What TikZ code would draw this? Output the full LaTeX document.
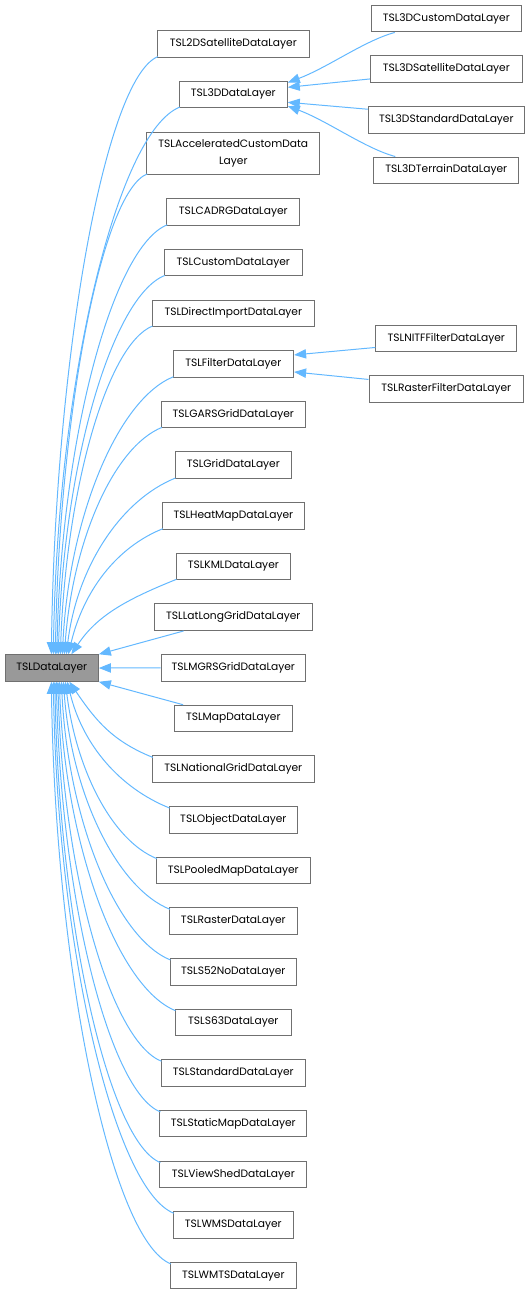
\documentclass[tikz,border=0pt]{standalone}
\usepackage{fontspec}
\setmainfont{Poppins}
\usetikzlibrary{arrows.meta,calc}
\definecolor{edgeblue}{HTML}{63B8FF}
\definecolor{boxline}{HTML}{707070}
\definecolor{rootfill}{HTML}{999999}
\tikzset{
  cls/.style={draw=boxline, fill=white, line width=0.75pt, minimum height=19.9pt,
    inner sep=0pt, font=\fontsize{8}{12.5}\selectfont, align=center},
  rootcls/.style={cls, fill=rootfill},
  edge/.style={draw=edgeblue, line width=0.75pt, -{Triangle[length=9pt,width=7pt]}, edgeblue},
}
\newcommand\myupedge[4]{% node, xl, yb, ex
  \pgfmathsetmacro\myww{#2-#4}%
  \pgfmathsetmacro\myhh{655-#3}%
  \pgfmathsetmacro\myax{-0.5*\myww}%
  \pgfmathsetmacro\myay{0.2*\myww}%
  \pgfmathsetmacro\mybx{max(4,1900/\myhh)}%
  \pgfmathsetmacro\myby{-0.5*\myhh}%
  \draw[edge] ($(#1.south west)+(1,-1)$) .. controls +(\myax,\myay) and +(\mybx,\myby) .. ($(root.north west)+(#4-5.2,0)$);
}
\newcommand\mydownedge[4]{% node, xl, yt, ex
  \pgfmathsetmacro\myww{#2-#4}%
  \pgfmathsetmacro\myhh{#3-681}%
  \pgfmathsetmacro\myax{-0.5*\myww}%
  \pgfmathsetmacro\myay{-0.2*\myww}%
  \pgfmathsetmacro\mybx{max(4,1900/\myhh)}%
  \pgfmathsetmacro\myby{0.5*\myhh}%
  \draw[edge] ($(#1.north west)+(1,2)$) .. controls +(\myax,\myay) and +(\mybx,\myby) .. ($(root.south west)+(#4-5.2,0)$);
}
\begin{document}
\begin{tikzpicture}[x=0.75pt,y=-0.75pt]
\useasboundingbox (0,0) rectangle (529,1295);
% root
\node[rootcls, minimum width=93.3*0.75pt] (root) at (51.7,668) {TSLDataLayer};
% middle column
\node[cls, minimum width=151.6*0.75pt] (sat2d) at (233.3,43.8) {TSL2DSatelliteDataLayer};
\node[cls, minimum width=108*0.75pt] (d3) at (233.3,94.3) {TSL3DDataLayer};
\node[cls, minimum width=173*0.75pt, minimum height=42.3*0.75pt] (accel) at (233.3,153.2) {TSLAcceleratedCustomData\\Layer};
\node[cls, minimum width=133*0.75pt] (cadrg) at (233.3,212) {TSLCADRGDataLayer};
\node[cls, minimum width=138*0.75pt] (custom) at (233.3,262.65) {TSLCustomDataLayer};
\node[cls, minimum width=162.6*0.75pt] (direct) at (233.3,313.3) {TSLDirectImportDataLayer};
\node[cls, minimum width=120.6*0.75pt] (filter) at (233.3,363.95) {TSLFilterDataLayer};
\node[cls, minimum width=143.6*0.75pt] (gars) at (233.3,414.6) {TSLGARSGridDataLayer};
\node[cls, minimum width=116.6*0.75pt] (grid) at (233.3,465.25) {TSLGridDataLayer};
\node[cls, minimum width=141.8*0.75pt] (heat) at (233.3,515.9) {TSLHeatMapDataLayer};
\node[cls, minimum width=114.6*0.75pt] (kml) at (233.3,566.55) {TSLKMLDataLayer};
\node[cls, minimum width=158.4*0.75pt] (latlong) at (233.3,617.2) {TSLLatLongGridDataLayer};
\node[cls, minimum width=144.3*0.75pt] (mgrs) at (233.3,667.85) {TSLMGRSGridDataLayer};
\node[cls, minimum width=117.4*0.75pt] (map) at (233.3,718.5) {TSLMapDataLayer};
\node[cls, minimum width=162*0.75pt] (natl) at (233.3,769.15) {TSLNationalGridDataLayer};
\node[cls, minimum width=128.4*0.75pt] (object) at (233.3,819.8) {TSLObjectDataLayer};
\node[cls, minimum width=153.6*0.75pt] (pooled) at (233.3,870.45) {TSLPooledMapDataLayer};
\node[cls, minimum width=127.6*0.75pt] (raster) at (233.3,921.1) {TSLRasterDataLayer};
\node[cls, minimum width=126.6*0.75pt] (s52) at (233.3,971.75) {TSLS52NoDataLayer};
\node[cls, minimum width=116.6*0.75pt] (s63) at (233.3,1022.4) {TSLS63DataLayer};
\node[cls, minimum width=144.6*0.75pt] (standard) at (233.3,1073.05) {TSLStandardDataLayer};
\node[cls, minimum width=146.8*0.75pt] (staticmap) at (233.3,1123.7) {TSLStaticMapDataLayer};
\node[cls, minimum width=146.8*0.75pt] (viewshed) at (233.3,1174.35) {TSLViewShedDataLayer};
\node[cls, minimum width=120*0.75pt] (wms) at (233.3,1225) {TSLWMSDataLayer};
\node[cls, minimum width=126*0.75pt] (wmts) at (233.3,1275.65) {TSLWMTSDataLayer};
% right column
\node[cls, minimum width=150*0.75pt] (c3dcustom) at (446.3,18.7) {TSL3DCustomDataLayer};
\node[cls, minimum width=152*0.75pt] (c3dsat) at (446.3,69.2) {TSL3DSatelliteDataLayer};
\node[cls, minimum width=156*0.75pt] (c3dstd) at (446.3,120) {TSL3DStandardDataLayer};
\node[cls, minimum width=145*0.75pt] (c3dterrain) at (446.3,170.3) {TSL3DTerrainDataLayer};
\node[cls, minimum width=141*0.75pt] (nitf) at (446.3,338.7) {TSLNITFFilterDataLayer};
\node[cls, minimum width=154.6*0.75pt] (rfilter) at (446.3,389.2) {TSLRasterFilterDataLayer};
% edges to TSL3DDataLayer
\draw[edge] ($(c3dcustom.south west)+(24,0)$) .. controls +(-30,8) and +(40,-15) .. ($(d3.north east)+(0,2)$);
\draw[edge] ($(c3dsat.south west)+(0,-4)$) -- ($(d3.east)+(0,-7)$);
\draw[edge] ($(c3dstd.north west)+(0,3)$) -- ($(d3.east)+(0,8)$);
\draw[edge] ($(c3dterrain.north west)+(22,0)$) .. controls +(-30,-8) and +(40,15) .. ($(d3.south east)+(0,-2)$);
% edges to TSLFilterDataLayer
\draw[edge] ($(nitf.south west)+(0,-5)$) -- ($(filter.east)+(0,-9)$);
\draw[edge] ($(rfilter.north west)+(0,4)$) -- ($(filter.east)+(0,8)$);
% edges to TSLDataLayer (upper)
\myupedge{sat2d}{157.4}{57}{52}
\myupedge{d3}{179.4}{107.5}{54}
\myupedge{accel}{147.2}{174.3}{56}
\myupedge{cadrg}{166.7}{225}{57.5}
\myupedge{custom}{164.3}{275.7}{59}
\myupedge{direct}{152}{326.3}{61}
\myupedge{filter}{173}{377}{63}
\myupedge{gars}{161.5}{427.6}{65}
\myupedge{grid}{175}{478.3}{67}
\myupedge{heat}{162.4}{529}{69}
\myupedge{kml}{176}{579.5}{72}
% straight ones
\draw[edge] ($(latlong.south west)+(30,0)$) -- (root.north east);
\draw[edge] (mgrs.west) -- (root.east);
\draw[edge] ($(map.north west)+(9,0)$) -- (root.south east);
% edges to TSLDataLayer (lower)
\mydownedge{natl}{152.3}{755.7}{70}
\mydownedge{object}{168.3}{806.5}{68}
\mydownedge{pooled}{155.7}{857.2}{66}
\mydownedge{raster}{169}{907.8}{64}
\mydownedge{s52}{170}{958.5}{62}
\mydownedge{s63}{175}{1009}{60}
\mydownedge{standard}{161}{1060}{58.5}
\mydownedge{staticmap}{159.3}{1110.5}{57}
\mydownedge{viewshed}{159.3}{1161}{55.5}
\mydownedge{wms}{173.3}{1211.7}{54}
\mydownedge{wmts}{170.3}{1262.4}{52}
\end{tikzpicture}
\end{document}
